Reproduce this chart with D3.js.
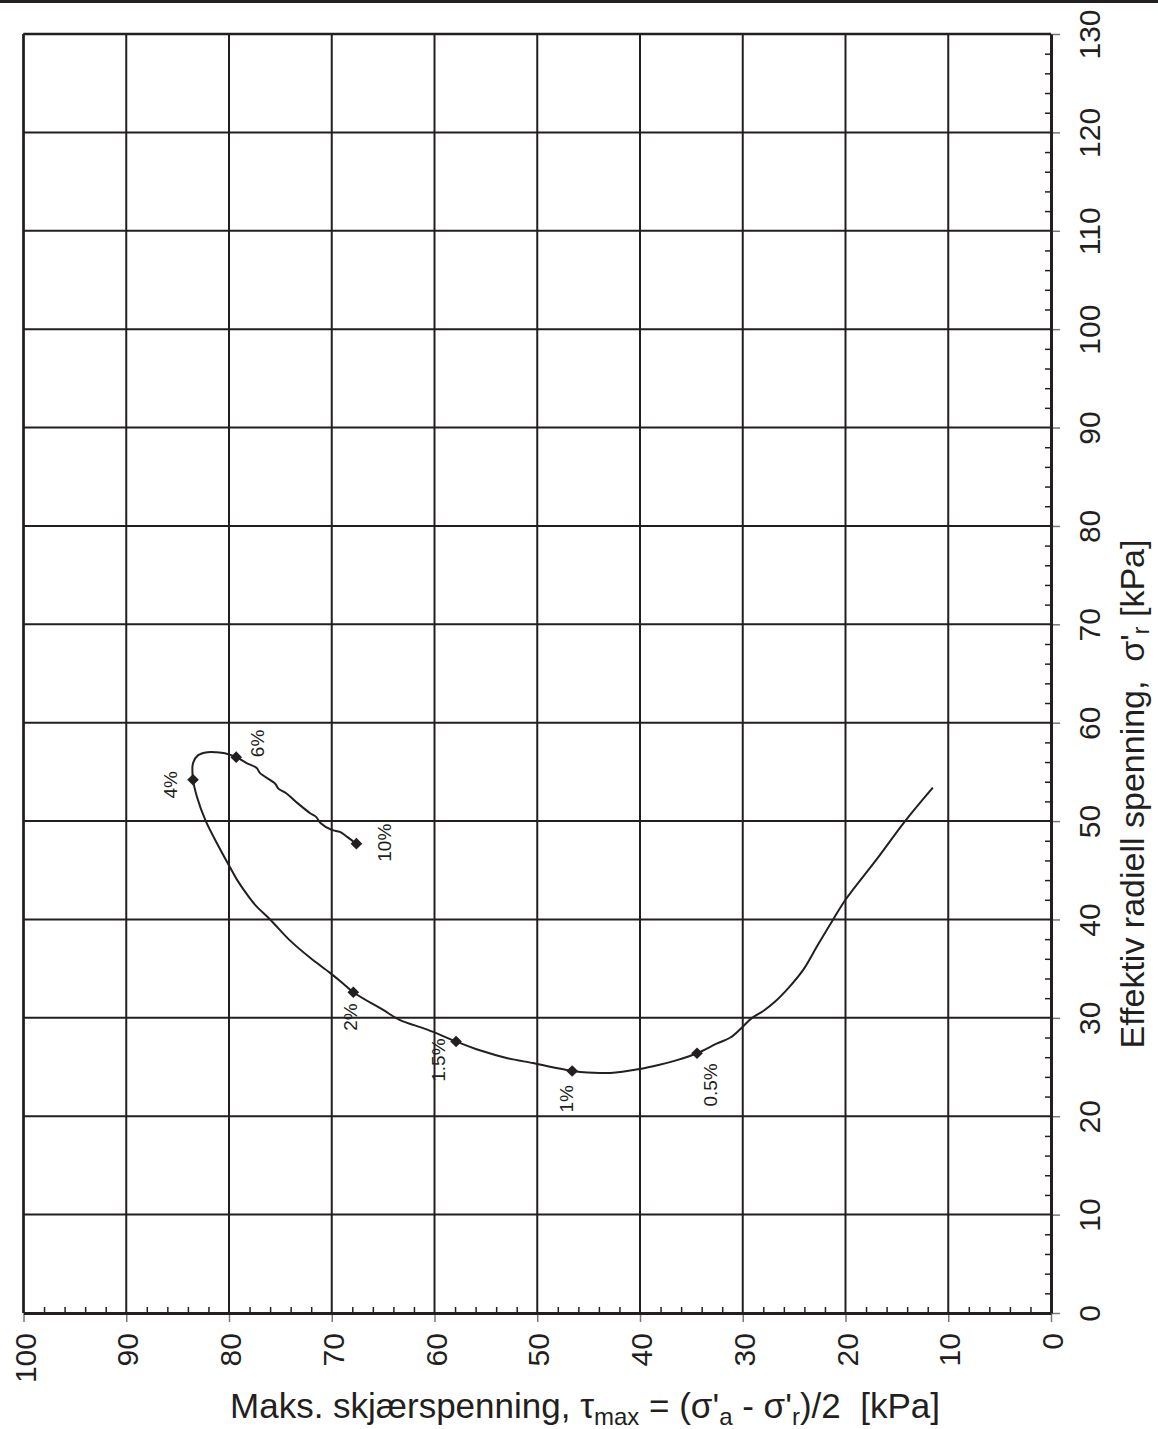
<!DOCTYPE html>
<html lang="no">
<head>
    <meta charset="UTF-8">
    <title>Spenningssti</title>
    <script src="https://d3js.org/d3.v7.min.js"></script>
    <style>
        body { margin: 0; background: #fff; }
        text { font-family: "Liberation Sans", Arial, sans-serif; fill: #231f20; }
    </style>
</head>
<body>
    <svg width="1158" height="1429"></svg>
    <script>
        // data
        const xTicks = [100, 90, 80, 70, 60, 50, 40, 30, 20, 10, 0];
        const yTicks = [0, 10, 20, 30, 40, 50, 60, 70, 80, 90, 100, 110, 120, 130];

        // stress path: tau_max (x) and sigma'_r (y), kPa
        const pathTau = [11.5, 14.2, 16.9, 20.0, 21.2, 22.7, 24.1, 25.5, 26.9, 28.0, 29.1, 30.0, 31.2, 32.5, 34.45,
            36.4, 38.2, 40.0, 42.9, 45.8, 46.6, 49.1, 50.4, 52.9, 55.6, 57.9, 60.7, 63.4, 65.0,
            67.9, 68.9, 70.2, 72.1, 74.1, 76.0, 77.3, 78.0, 79.2, 79.9, 81.2, 82.3, 83.1, 83.5,
            83.5, 83.0, 82.1, 81.2, 80.4, 79.3, 78.3, 77.3, 77.0, 75.5, 75.2, 74.4, 73.3, 72.1,
            71.5, 71.1, 70.0, 69.2, 68.5, 67.6];
        const pathSigma = [53.4, 50.0, 46.2, 42.0, 40.0, 37.4, 34.9, 33.1, 31.6, 30.7, 30.0, 29.1, 28.0, 27.4, 26.4,
            25.7, 25.2, 24.8, 24.4, 24.5, 24.6, 25.1, 25.4, 25.9, 26.7, 27.6, 28.8, 29.8, 30.8,
            32.6, 33.5, 34.6, 36.1, 37.9, 40.0, 41.3, 42.2, 44.0, 45.3, 47.8, 50.1, 52.4, 54.2,
            55.9, 56.7, 57.0, 57.0, 56.9, 56.5, 55.9, 55.4, 54.9, 53.8, 53.3, 52.8, 51.8, 50.8,
            50.4, 49.8, 49.1, 48.9, 48.4, 47.7];

        // strain markers
        const markerLabels = ['0.5%', '1%', '1.5%', '2%', '4%', '6%', '10%'];
        const markerTau = [34.45, 46.6, 57.9, 67.9, 83.5, 79.3, 67.6];
        const markerSigma = [26.4, 24.6, 27.6, 32.6, 54.2, 56.5, 47.7];

        const ink = '#231f20';
        const plotL = 23.5, plotR = 1051, plotT = 34, plotB = 1313;

        const x = d3.scaleLinear().domain([100, 0]).range([plotL, plotR]);
        const y = d3.scaleLinear().domain([0, 130]).range([plotB, plotT]);

        const svg = d3.select('svg');

        // black bar along the top of the page
        svg.append('rect').attr('x', 0).attr('y', 0).attr('width', 1158).attr('height', 3).attr('fill', ink);

        // grid
        svg.append('g').selectAll('line').data(xTicks.slice(0, -1)).enter().append('line')
            .attr('x1', d => x(d)).attr('x2', d => x(d))
            .attr('y1', plotT).attr('y2', plotB)
            .attr('stroke', ink).attr('stroke-width', 2);
        svg.append('g').selectAll('line').data(yTicks.slice(1)).enter().append('line')
            .attr('x1', plotL).attr('x2', plotR)
            .attr('y1', d => y(d)).attr('y2', d => y(d))
            .attr('stroke', ink).attr('stroke-width', 2);

        const minorX = d3.range(0, 101, 2).filter(d => d % 10 !== 0);
        const minorY = d3.range(0, 131, 2).filter(d => d % 10 !== 0);

        // bottom axis
        const gx = svg.append('g').attr('transform', `translate(0, ${plotB})`);
        gx.call(d3.axisBottom(x).tickValues(xTicks).tickSize(9).tickSizeOuter(0));
        gx.append('g').call(d3.axisBottom(x).tickValues(minorX).tickSize(-6).tickSizeOuter(0).tickFormat(''));
        gx.selectAll('.domain').attr('stroke', ink).attr('stroke-width', 3);
        gx.selectAll('.tick line').attr('stroke', ink).attr('stroke-width', 1.5);
        gx.selectAll(':scope > .tick line').attr('stroke', '#777');
        gx.selectAll('.tick text')
            .attr('transform', 'rotate(-90)')
            .attr('x', -20).attr('y', 11.5).attr('dy', 0)
            .attr('text-anchor', 'end')
            .style('font-size', '30px').style('font-family', '"Liberation Sans", Arial, sans-serif')
            .attr('fill', ink);

        // right axis
        const gy = svg.append('g').attr('transform', `translate(${plotR}, 0)`);
        gy.call(d3.axisRight(y).tickValues(yTicks).tickSize(9).tickSizeOuter(0));
        gy.append('g').call(d3.axisRight(y).tickValues(minorY).tickSize(-6).tickSizeOuter(0).tickFormat(''));
        gy.selectAll('.domain').attr('stroke', ink).attr('stroke-width', 3);
        gy.selectAll('.tick line').attr('stroke', ink).attr('stroke-width', 1.5);
        gy.selectAll(':scope > .tick line').attr('stroke', '#777');
        gy.selectAll('.tick text')
            .attr('transform', 'rotate(-90)')
            .attr('x', 0).attr('y', 49).attr('dy', 0)
            .attr('text-anchor', 'middle')
            .style('font-size', '30px').style('font-family', '"Liberation Sans", Arial, sans-serif')
            .attr('fill', ink);

        // frame top and left
        svg.append('line').attr('x1', plotL).attr('x2', plotR).attr('y1', plotT).attr('y2', plotT)
            .attr('stroke', ink).attr('stroke-width', 2.5);
        svg.append('line').attr('x1', plotL).attr('x2', plotL).attr('y1', plotT).attr('y2', plotB)
            .attr('stroke', ink).attr('stroke-width', 2.5);

        // stress path
        const line = d3.line()
            .x((d, i) => x(pathTau[i]))
            .y((d, i) => y(pathSigma[i]))
            .curve(d3.curveCatmullRom.alpha(0.5));
        svg.append('path')
            .attr('d', line(pathTau))
            .attr('fill', 'none')
            .attr('stroke', ink)
            .attr('stroke-width', 2)
            .attr('stroke-linejoin', 'round');

        // markers
        const diamond = d3.symbol().type(d3.symbolSquare).size(68);
        svg.append('g').selectAll('path').data(markerTau).enter().append('path')
            .attr('d', diamond)
            .attr('transform', (d, i) => `translate(${x(d)}, ${y(markerSigma[i])}) rotate(45)`)
            .attr('fill', ink);

        // label placement relative to marker: [dx baseline, dy, anchor]
        const labelOffsets = [[20, 10, 'end'], [1, 14, 'end'], [-11, -3, 'end'], [4, 11, 'end'],
            [-16, 5, 'middle'], [28, 0, 'start'], [35, -1, 'middle']];
        svg.append('g').selectAll('text').data(markerLabels).enter().append('text')
            .attr('transform', (d, i) => {
                const o = labelOffsets[i];
                return `translate(${x(markerTau[i]) + o[0]}, ${y(markerSigma[i]) + o[1]}) rotate(-90)`;
            })
            .attr('text-anchor', (d, i) => labelOffsets[i][2])
            .style('font-size', '19px')
            .text(d => d);

        // axis titles
        const xt = svg.append('text')
            .attr('x', 585).attr('y', 1418)
            .attr('text-anchor', 'middle')
            .style('font-size', '35px')
            .style('white-space', 'pre');
        xt.append('tspan').text('Maks. skjærspenning, τ');
        xt.append('tspan').attr('dy', 7).style('font-size', '24px').text('max');
        xt.append('tspan').attr('dy', -7).text(" = (σ'");
        xt.append('tspan').attr('dy', 7).style('font-size', '24px').text('a');
        xt.append('tspan').attr('dy', -7).text(" - σ'");
        xt.append('tspan').attr('dy', 7).style('font-size', '24px').text('r');
        xt.append('tspan').attr('dy', -7).text(')/2  [kPa]');

        const yt = svg.append('text')
            .attr('transform', 'translate(1144, 794) rotate(-90)')
            .attr('text-anchor', 'middle')
            .style('font-size', '34px')
            .style('white-space', 'pre');
        yt.append('tspan').text("Effektiv radiell spenning,  σ'");
        yt.append('tspan').attr('dy', 5).style('font-size', '23px').text('r');
        yt.append('tspan').attr('dy', -5).text(' [kPa]');
    </script>
</body>
</html>
